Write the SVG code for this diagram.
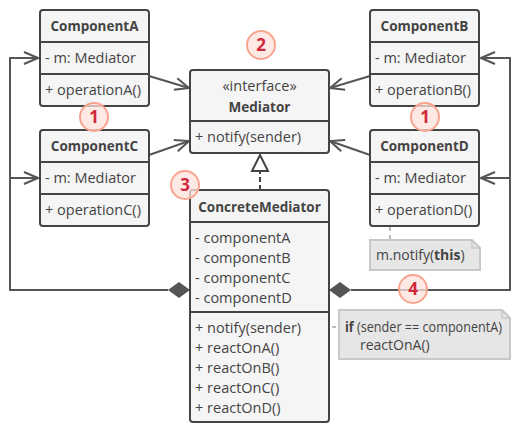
<svg xmlns="http://www.w3.org/2000/svg" width="520" height="430" viewBox="0 0 520 430">
<defs>
<style>
.box{fill:#f5f5f5;stroke:#444;stroke-width:2}
.div{stroke:#444;stroke-width:2}
.t{font-family:"Open Sans","DejaVu Sans",sans-serif;font-size:14.5px;fill:#444}
.n{font-family:"Open Sans","DejaVu Sans",sans-serif;font-size:14px;fill:#444}
.h{font-family:"Open Sans","DejaVu Sans",sans-serif;font-size:13.5px;font-weight:bold;fill:#444;text-anchor:middle}
.b{font-weight:bold}
.c{text-anchor:middle}
.ln{fill:none;stroke:#555;stroke-width:2}
.note{fill:#e6e6e6;stroke:#c8c8c8;stroke-width:2}
.dash{fill:none;stroke:#bbb;stroke-width:2;stroke-dasharray:4 4}
.badge{fill:#fde2dc;fill-opacity:0.75;stroke:#f8a48f;stroke-width:2}
.bt{font-family:"Open Sans","DejaVu Sans",sans-serif;font-size:17px;font-weight:bold;fill:#d0283a;text-anchor:middle}
</style>
<marker id="open" viewBox="0 0 16 14" refX="15" refY="7" markerWidth="16" markerHeight="14" markerUnits="userSpaceOnUse" orient="auto">
<path d="M1 1 L15 7 L1 13" fill="none" stroke="#555" stroke-width="2"/>
</marker>
</defs>

<g id="connectors">
<path class="ln" d="M149 76 L189 88" marker-end="url(#open)"/>
<path class="ln" d="M149 155 L189 141" marker-end="url(#open)"/>
<path class="ln" d="M370 76 L330 88" marker-end="url(#open)"/>
<path class="ln" d="M370 155 L330 141" marker-end="url(#open)"/>
<path class="ln" d="M168 290 L10 290 L10 58 L38 58" marker-end="url(#open)"/>
<path class="ln" d="M10 178 L38 178" marker-end="url(#open)"/>
<path class="ln" d="M351 290 L510 290 L510 58 L481 58" marker-end="url(#open)"/>
<path class="ln" d="M510 178 L481 178" marker-end="url(#open)"/>
<path d="M168 290 L179 282 L190 290 L179 298 Z" fill="#555"/>
<path d="M329 290 L340 282 L351 290 L340 298 Z" fill="#555"/>
<path d="M260 190 L260 171" fill="none" stroke="#444" stroke-width="2" stroke-dasharray="5 3"/>
<path d="M260 155 L268 171 L252 171 Z" fill="#fff" stroke="#444" stroke-width="2"/>
<path class="dash" d="M390 227 L390 239" stroke-dasharray="0 4 4 8"/>
<path class="dash" d="M316 327 L339 327"/>
<circle cx="312" cy="327" r="3.5" fill="#fff" stroke="#bbb" stroke-width="1.5"/>
</g>

<g id="componentA">
<rect class="box" x="40" y="10" width="109" height="96" rx="3"/>
<line class="div" x1="40" y1="42" x2="149" y2="42"/>
<line class="div" x1="40" y1="74" x2="149" y2="74"/>
<text class="h" x="94.5" y="31">ComponentA</text>
<text class="t" x="45" y="63">- m: Mediator</text>
<text class="t" x="45" y="95">+ operationA()</text>
</g>

<g id="componentC">
<rect class="box" x="40" y="130" width="109" height="96" rx="3"/>
<line class="div" x1="40" y1="162" x2="149" y2="162"/>
<line class="div" x1="40" y1="194" x2="149" y2="194"/>
<text class="h" x="94.5" y="151">ComponentC</text>
<text class="t" x="45" y="183">- m: Mediator</text>
<text class="t" x="45" y="215">+ operationC()</text>
</g>

<g id="componentB">
<rect class="box" x="370" y="10" width="109" height="96" rx="3"/>
<line class="div" x1="370" y1="42" x2="479" y2="42"/>
<line class="div" x1="370" y1="74" x2="479" y2="74"/>
<text class="h" x="424.5" y="31">ComponentB</text>
<text class="t" x="375" y="63">- m: Mediator</text>
<text class="t" x="375" y="95">+ operationB()</text>
</g>

<g id="componentD">
<rect class="box" x="370" y="130" width="109" height="96" rx="3"/>
<line class="div" x1="370" y1="162" x2="479" y2="162"/>
<line class="div" x1="370" y1="194" x2="479" y2="194"/>
<text class="h" x="424.5" y="151">ComponentD</text>
<text class="t" x="375" y="183">- m: Mediator</text>
<text class="t" x="375" y="215">+ operationD()</text>
</g>

<g id="mediator">
<rect class="box" x="190" y="70" width="139" height="83" rx="3"/>
<line class="div" x1="190" y1="121" x2="329" y2="121"/>
<text class="t c" x="259.5" y="91">«interface»</text>
<text class="h" x="259.5" y="112">Mediator</text>
<text class="t" x="195" y="142">+ notify(sender)</text>
</g>

<g id="concreteMediator">
<rect class="box" x="190" y="190" width="139" height="232" rx="3"/>
<line class="div" x1="190" y1="222" x2="329" y2="222"/>
<line class="div" x1="190" y1="312" x2="329" y2="312"/>
<text class="h" x="259.5" y="212">ConcreteMediator</text>
<text class="t" x="195" y="243">- componentA</text>
<text class="t" x="195" y="263">- componentB</text>
<text class="t" x="195" y="283">- componentC</text>
<text class="t" x="195" y="303">- componentD</text>
<text class="t" x="195" y="333">+ notify(sender)</text>
<text class="t" x="195" y="353">+ reactOnA()</text>
<text class="t" x="195" y="373">+ reactOnB()</text>
<text class="t" x="195" y="393">+ reactOnC()</text>
<text class="t" x="195" y="413">+ reactOnD()</text>
</g>

<g id="note1">
<path class="note" d="M370 240 L472 240 L480 248 L480 270 L370 270 Z"/>
<path d="M472 240 L472 248 L480 248" fill="none" stroke="#c8c8c8" stroke-width="1.5"/>
<text class="n" x="376" y="260">m.notify(<tspan class="b">this</tspan>)</text>
</g>

<g id="note2">
<path class="note" d="M339 310 L502 310 L510 318 L510 359 L339 359 Z"/>
<path d="M502 310 L502 318 L510 318" fill="none" stroke="#c8c8c8" stroke-width="1.5"/>
<text class="n" x="345" y="332" font-size="13.5" textLength="157" lengthAdjust="spacingAndGlyphs"><tspan class="b">if</tspan> (sender == componentA)</text>
<text class="n" x="360" y="350">reactOnA()</text>
</g>

<g id="badge1a"><circle class="badge" cx="94" cy="117" r="14"/><text class="bt" x="94" y="123">1</text></g>
<g id="badge1b"><circle class="badge" cx="425" cy="117" r="14"/><text class="bt" x="425" y="123">1</text></g>
<g id="badge2"><circle class="badge" cx="261" cy="45" r="14"/><text class="bt" x="261" y="51">2</text></g>
<g id="badge3"><circle class="badge" cx="185" cy="185" r="14"/><text class="bt" x="185" y="191">3</text></g>
<g id="badge4"><circle class="badge" cx="413" cy="289" r="14"/><text class="bt" x="413" y="295">4</text></g>
</svg>
